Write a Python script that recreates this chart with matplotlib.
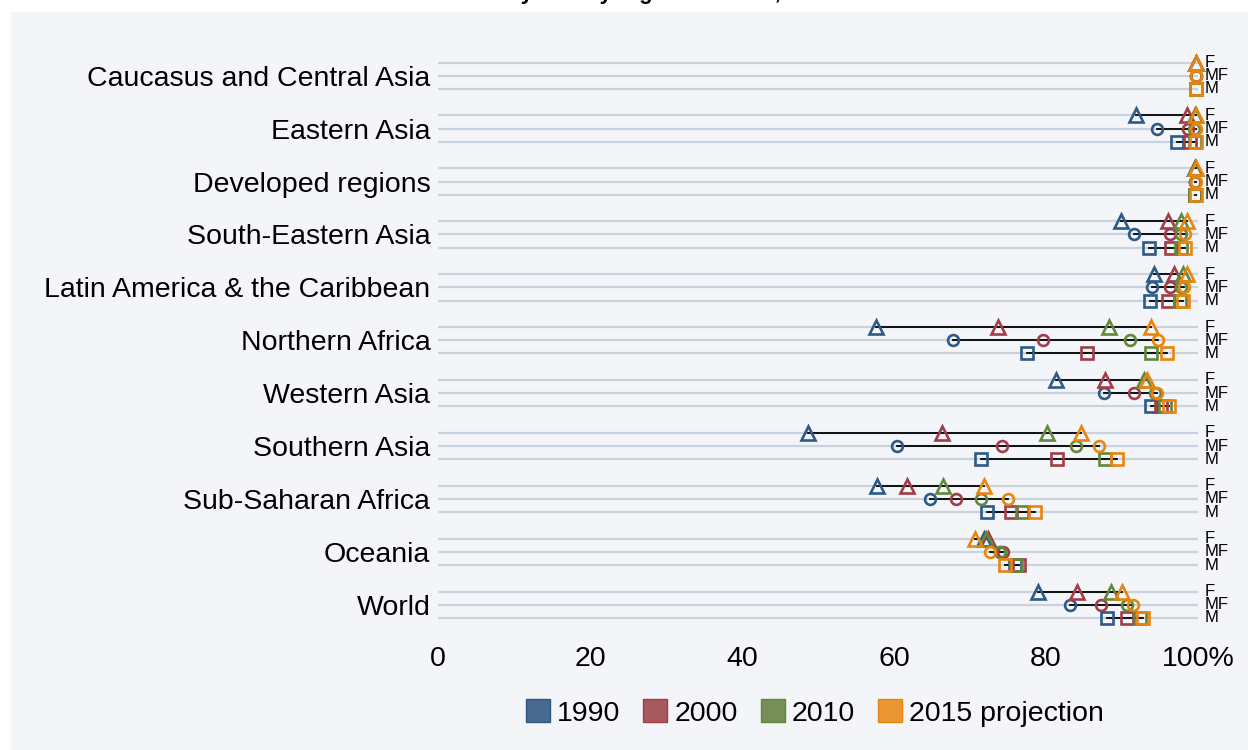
import matplotlib
matplotlib.use("Agg")
import matplotlib.pyplot as plt
from matplotlib.patches import Rectangle, Patch

plt.rcParams['font.family'] = ['Liberation Sans', 'DejaVu Sans']

regions = ["Caucasus and Central Asia", "Eastern Asia", "Developed regions",
           "South-Eastern Asia", "Latin America & the Caribbean", "Northern Africa",
           "Western Asia", "Southern Asia", "Sub-Saharan Africa", "Oceania", "World"]
years = ["1990", "2000", "2010", "2015 projection"]
groups = ["F", "MF", "M"]

# youth literacy, % ; rows = region, [F, MF, M] per year
lit_1990 = [[99.7, 99.7, 99.7], [91.9, 94.6, 97.3], [99.6, 99.6, 99.6], [89.9, 91.6, 93.6],
            [94.2, 93.9, 93.7], [57.6, 67.7, 77.5], [81.3, 87.6, 93.8], [48.7, 60.4, 71.5],
            [57.8, 64.7, 72.2], [71.9, 73.9, 75.9], [78.9, 83.2, 88.0]]
lit_2000 = [[99.8, 99.7, 99.7], [98.6, 98.7, 98.9], [99.6, 99.6, 99.6], [96.1, 96.3, 96.5],
            [96.8, 96.3, 96.0], [73.7, 79.6, 85.4], [87.8, 91.6, 95.1], [66.3, 74.2, 81.5],
            [61.7, 68.1, 75.4], [72.4, 74.3, 76.5], [84.1, 87.3, 90.6]]
lit_2010 = [[99.8, 99.8, 99.7], [99.6, 99.5, 99.6], [99.6, 99.6, 99.6], [97.8, 97.8, 97.8],
            [98.0, 97.8, 97.6], [88.3, 91.1, 93.8], [92.9, 94.3, 95.7], [80.1, 84.0, 87.8],
            [66.4, 71.4, 76.9], [72.1, 74.0, 76.1], [88.6, 90.6, 92.4]]
lit_2015 = [[99.8, 99.8, 99.7], [99.8, 99.7, 99.7], [99.7, 99.7, 99.7], [98.5, 98.3, 98.3],
            [98.5, 98.1, 98.0], [93.8, 94.8, 95.9], [93.3, 94.6, 96.2], [84.6, 87.0, 89.4],
            [71.8, 75.0, 78.6], [70.6, 72.6, 74.6], [90.0, 91.4, 92.8]]

series = [lit_1990, lit_2000, lit_2010, lit_2015]
marker_colors = ["#2d5a87", "#a23c48", "#62883b", "#e8850f"]
legend_colors = ["#486a8d", "#a55a5e", "#768f57", "#ea9733"]
markers = {"F": "^", "MF": "o", "M": "s"}
sizes = {"F": 10.5, "MF": 7.8, "M": 8.8}
offsets = {"F": -0.25, "MF": 0.0, "M": 0.25}

fig = plt.figure(figsize=(12.48, 7.5), dpi=100, facecolor="white")
fig.patches.append(Rectangle((11 / 1248, 0), 1, 1 - 12 / 750, transform=fig.transFigure,
                             facecolor="#f3f5f9", edgecolor="none", zorder=-1))

ax = fig.add_axes([438 / 1248, 1 - 631.2 / 750, 760 / 1248, 581.9 / 750])
ax.set_facecolor("none")
ax.set_zorder(2)

for i, reg in enumerate(regions):
    for j, g in enumerate(groups):
        y = i + offsets[g]
        ax.hlines(y, 0, 100, color="#c9d2dd", lw=1.6, zorder=1)
        vals = [s[i][j] for s in series]
        ax.plot([min(vals), max(vals)], [y, y], color="black", lw=1.3, zorder=2)
        for k, s in enumerate(series):
            ax.plot(s[i][j], y, marker=markers[g], ms=sizes[g],
                    mfc="none", mec=marker_colors[k], mew=1.9, ls="none", zorder=3 + k,
                    clip_on=False)
        ax.text(100.9, y, g, fontsize=12, va="center", ha="left",
                family=["Liberation Sans Narrow", "Liberation Sans"], clip_on=False)

ax.set_xlim(0, 100)
ax.set_ylim(10.5, -0.5)
ax.set_yticks(range(len(regions)))
ax.set_yticklabels(regions, fontsize=20.5)
ax.set_xticks([0, 20, 40, 60, 80, 100])
ax.set_xticklabels(["0", "20", "40", "60", "80", "100%"], fontsize=20.5)
ax.tick_params(axis="y", length=0, pad=5.5)
ax.tick_params(axis="x", length=0, pad=11)
for sp in ax.spines.values():
    sp.set_visible(False)

handles = [Patch(facecolor=legend_colors[k], edgecolor=marker_colors[k], lw=1) for k in range(4)]
fig.legend(handles, years, loc="center", bbox_to_anchor=(815 / 1248, 1 - 713 / 750), ncol=4,
           frameon=False, fontsize=20.5, handlelength=0.85, handleheight=0.85,
           handletextpad=0.25, columnspacing=0.8)

fig.text(0.513, 1 + 0.5 / 750, "Youth literacy rate by region and sex, 1990-2015",
         ha="center", va="baseline", fontsize=16, fontweight="bold")

fig.savefig("out.png", dpi=100, facecolor=fig.get_facecolor())
